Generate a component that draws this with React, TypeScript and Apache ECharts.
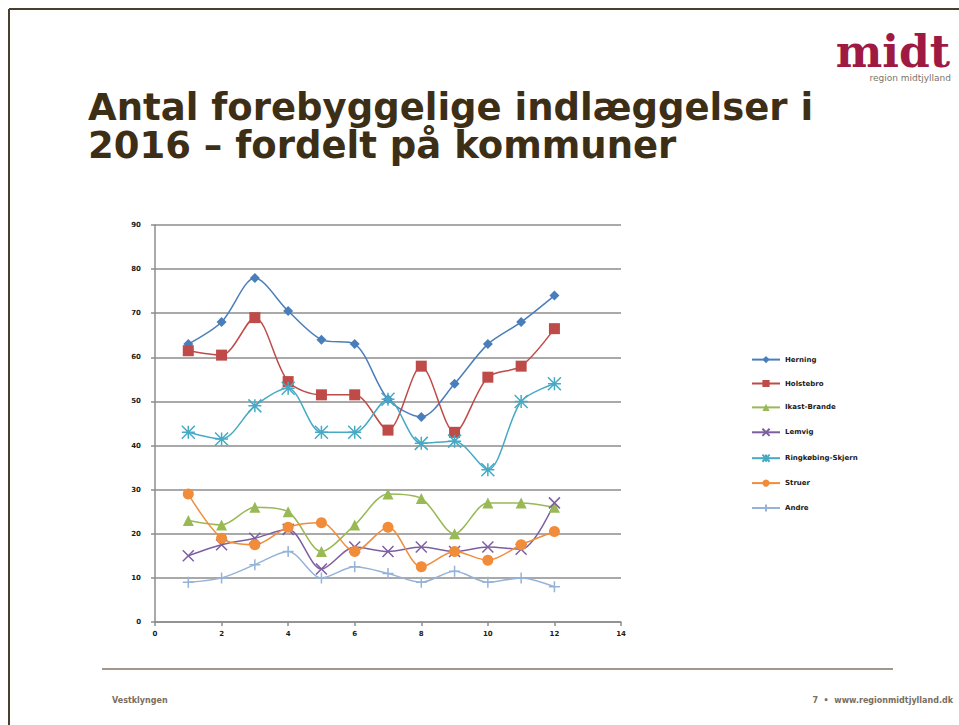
import React, { useEffect, useRef } from "react";
import * as echarts from "echarts";

const xValues = [1, 2, 3, 4, 5, 6, 7, 8, 9, 10, 11, 12];
const seriesNames = ["Herning", "Holstebro", "Ikast-Brande", "Lemvig", "Ringkøbing-Skjern", "Struer", "Andre"];
const herning = [63, 68, 78, 70.5, 64, 63, 50.5, 46.5, 54, 63, 68, 74];
const holstebro = [61.5, 60.5, 69, 54.5, 51.5, 51.5, 43.5, 58, 43, 55.5, 58, 66.5];
const ikastBrande = [23, 22, 26, 25, 16, 22, 29, 28, 20, 27, 27, 26];
const lemvig = [15, 17.5, 19, 21, 12, 17, 16, 17, 16, 17, 16.5, 27];
const ringkobing = [43, 41.5, 49, 53, 43, 43, 50.5, 40.5, 41, 34.5, 50, 54];
const struer = [29, 19, 17.5, 21.5, 22.5, 16, 21.5, 12.5, 16, 14, 17.5, 20.5];
const andre = [9, 10, 13, 16, 10, 12.5, 11, 9, 11.5, 9, 10, 8];
const seriesValues = [herning, holstebro, ikastBrande, lemvig, ringkobing, struer, andre];
const seriesColors = ["#4a7ebb", "#be4b48", "#98b954", "#7d5fa0", "#46aac5", "#f08c3a", "#95b3d7"];
const seriesSymbols = [
  "diamond",
  "rect",
  "triangle",
  "path://M0,0L2,2M2,0L0,2",
  "path://M0,1L2,1M1,0L1,2M0,0L2,2M2,0L0,2",
  "circle",
  "path://M1,0L1,2M0,1L2,1",
];
const seriesSymbolSizes = [10, 11, 11, 11, 13, 11, 11];
const titleLines = ["Antal forebyggelige indlæggelser i", "2016 – fordelt på kommuner"];
const footerLeft = "Vestklyngen";
const footerRight = "7  •  www.regionmidtjylland.dk";

export default function App() {
  const ref = useRef<HTMLDivElement>(null);
  useEffect(() => {
    if (!ref.current) return;
    const chart = echarts.init(ref.current, null, { renderer: "svg" });
    const lineLike = (i: number) => seriesSymbols[i].startsWith("path://");
    chart.setOption({
      animation: false,
      backgroundColor: "#ffffff",
      textStyle: { fontFamily: "DejaVu Sans" },
      grid: { left: 155, top: 225, width: 466, height: 397, containLabel: false },
      xAxis: {
        type: "value",
        min: 0,
        max: 14,
        interval: 2,
        axisLine: { show: true, onZero: false, lineStyle: { color: "#8c8c8c", width: 1.5 } },
        axisTick: { show: true, length: 4, lineStyle: { color: "#8c8c8c", width: 1.5 } },
        axisLabel: { color: "#1a1a1a", fontSize: 7, fontWeight: "bold", margin: 8 },
        splitLine: { show: false },
      },
      yAxis: {
        type: "value",
        min: 0,
        max: 90,
        interval: 10,
        axisLine: { show: true, lineStyle: { color: "#8c8c8c", width: 1.5 } },
        axisTick: { show: true, length: 4, lineStyle: { color: "#8c8c8c", width: 1.5 } },
        axisLabel: { color: "#1a1a1a", fontSize: 7, fontWeight: "bold", margin: 14 },
        splitLine: { show: true, lineStyle: { color: "#8c8c8c", width: 1.5 } },
      },
      legend: {
        orient: "vertical",
        left: 746,
        top: 351,
        itemWidth: 28,
        itemHeight: 9,
        itemGap: 16.7,
        textStyle: { fontSize: 7, fontWeight: "bold", color: "#1a1a1a" },
        data: seriesNames,
      },
      series: seriesNames.map((name, i) => ({
        name,
        type: "line",
        smooth: 0.3,
        data: xValues.map((x, j) => [x, seriesValues[i][j]]),
        symbol: seriesSymbols[i],
        symbolSize: seriesSymbolSizes[i],
        lineStyle: { color: seriesColors[i], width: 1.5 },
        itemStyle: lineLike(i)
          ? { color: seriesColors[i], borderColor: seriesColors[i], borderWidth: 1.5 }
          : { color: seriesColors[i], borderWidth: 0 },
      })),
      graphic: [
        { type: "line", shape: { x1: 9, y1: 9, x2: 959, y2: 9 }, style: { stroke: "#4a3f2f", lineWidth: 2 } },
        { type: "line", shape: { x1: 9, y1: 9, x2: 9, y2: 725 }, style: { stroke: "#4a3f2f", lineWidth: 2 } },
        {
          type: "text",
          left: 88,
          top: 89,
          style: { text: titleLines[0], font: "bold 37px 'DejaVu Sans'", fill: "#3d2f16", lineHeight: 36 },
        },
        {
          type: "text",
          left: 88,
          top: 127,
          style: { text: titleLines[1], font: "bold 37px 'DejaVu Sans'", fill: "#3d2f16", lineHeight: 36 },
        },
        {
          type: "text",
          right: 9,
          top: 29,
          style: { text: "midt", font: "bold 44px 'DejaVu Serif'", fill: "#9e1a42", lineHeight: 40 },
        },
        {
          type: "text",
          right: 8,
          top: 73,
          style: { text: "region midtjylland", font: "9px 'DejaVu Sans'", fill: "#7a7468", lineHeight: 10 },
        },
        { type: "line", shape: { x1: 102, y1: 669, x2: 893, y2: 669 }, style: { stroke: "#a3968a", lineWidth: 2 } },
        {
          type: "text",
          left: 112,
          top: 696,
          style: { text: footerLeft, font: "bold 8px 'DejaVu Sans'", fill: "#7a6e5e" },
        },
        {
          type: "text",
          right: 6,
          top: 696,
          style: { text: footerRight, font: "bold 8px 'DejaVu Sans'", fill: "#7a6e5e" },
        },
      ],
    });
    return () => chart.dispose();
  }, []);
  return <div ref={ref} style={{ position: "absolute", left: 0, top: 0, width: 959, height: 725 }} />;
}
